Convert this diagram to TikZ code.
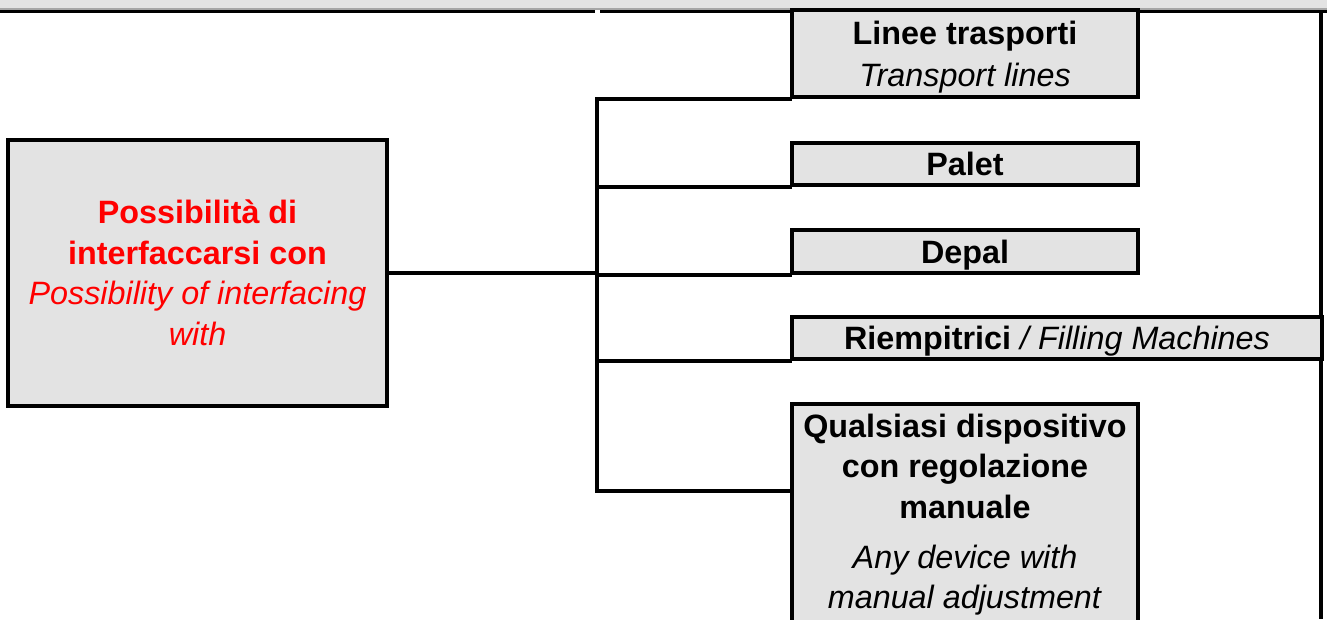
\documentclass[tikz,border=0pt]{standalone}
\usepackage{fontspec}
\setmainfont{Liberation Sans}
\definecolor{boxgray}{RGB}{227,227,227}
\newcommand{\boxstrut}{\rule[-4.5pt]{0pt}{22.2pt}}
\begin{document}
\begin{tikzpicture}[x=0.02cm,y=-0.02cm,
    box/.style={draw,line width=2.3pt,fill=boxgray,inner sep=0pt,align=center,
      font=\fontsize{18.4}{23}\selectfont,
      execute at begin node=\boxstrut,execute at end node=\boxstrut},
    link/.style={line width=2.3pt,line cap=rect}]
  \useasboundingbox (0,0) rectangle (1327,619);
  \clip (0,0) rectangle (1327,619);
  % header strip
  \fill[boxgray] (0,0) rectangle (1327,9);
  \draw[gray!70,line width=0.6pt] (0,9)--(1327,9);
  \draw[line width=1.7pt] (0,11.5)--(595,11.5) (600,11.5)--(1327,11.5);
  \draw[line width=2pt] (1321,11.5)--(1321,619);
  % boxes
  \node[box,minimum width=7.58cm,minimum height=5.32cm,text=red] (hub) at (197.5,273)
    {\boxstrut\textbf{Possibilità di}\\ \textbf{interfaccarsi con}\\ \textit{Possibility of interfacing}\\ \textit{with}};
  \node[box,minimum width=6.92cm,minimum height=1.74cm] (lines) at (965,53.5)
    {\boxstrut\textbf{Linee trasporti}\\[0.8pt] \textit{Transport lines}};
  \node[box,minimum width=6.92cm,minimum height=0.84cm] (palet) at (965,164) {\textbf{Palet}};
  \node[box,minimum width=6.92cm,minimum height=0.86cm] (depal) at (965,251.5) {\textbf{Depal}};
  \node[box,minimum width=10.6cm,minimum height=0.84cm] (fillers) at (1057,338)
    {\textbf{Riempitrici} \textit{/ Filling Machines}};
  \node[box,minimum width=6.92cm,minimum height=4.44cm] (anydev) at (965,515)
    {\boxstrut\textbf{Qualsiasi dispositivo}\\ \textbf{con regolazione}\\ \textbf{manuale}\\[5.5pt]
     \textit{Any device with}\\ \textit{manual adjustment}\rule[-8.5pt]{0pt}{0pt}};
  % connectors
  \coordinate (fork) at (597,273);
  \draw[link] (hub.east) -- (fork);
  \foreach \n in {lines,palet,depal,fillers} \draw[link] (\n.south west) -| (fork);
  \draw[link] ([yshift=-1.78cm]anydev.north west) -| (fork);
\end{tikzpicture}
\end{document}
